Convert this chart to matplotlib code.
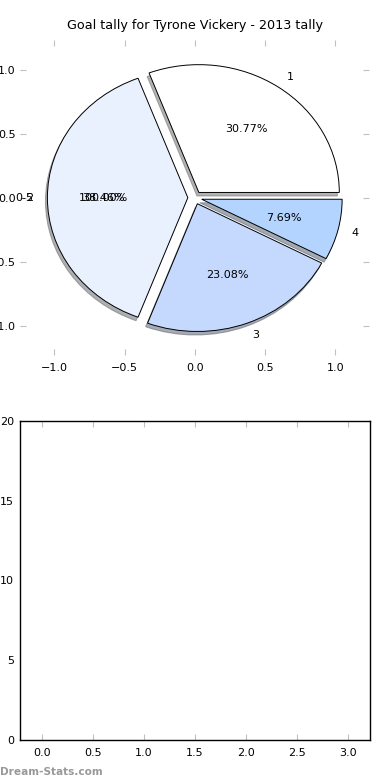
import matplotlib
matplotlib.use("Agg")
import matplotlib.pyplot as plt

# goals per round band
labels = ['1', '2', '3', '4']
goals = [4, 5, 3, 1]
colors = ['#ffffff', '#e9f0fe', '#c5d8fe', '#b3d4fe']
explode = [0.05, 0.05, 0.05, 0.05]

# leftover "0-5" entry, drawn as an empty single-wedge pie
range_label = ['0-5']
range_vals = [1]

bar_xticks = [0.0, 0.5, 1.0, 1.5, 2.0, 2.5, 3.0]
bar_yticks = [0, 5, 10, 15, 20]

fig = plt.figure(figsize=(3.9, 7.8), dpi=100)

ax1 = fig.add_axes([0.0513, 0.545, 0.8949, 0.4037])
ax1.pie(range_vals, labels=range_label, autopct='%1.2f%%', explode=[0.05],
        wedgeprops={'facecolor': 'none', 'linewidth': 0},
        textprops={'fontsize': 8}, frame=True)
ax1.pie(goals, labels=labels, colors=colors, explode=explode,
        shadow={'ox': -0.01, 'oy': -0.02, 'shade': 0.6, 'zorder': 0.5},
        autopct='%1.2f%%', wedgeprops={'edgecolor': 'black', 'linewidth': 0.7},
        textprops={'fontsize': 8}, frame=True)
ax1.set_aspect('auto')
ax1.set_xlim(-1.245, 1.24)
ax1.set_ylim(-1.23, 1.234)
ax1.set_xticks([-1.0, -0.5, 0.0, 0.5, 1.0])
ax1.set_yticks([-1.0, -0.5, 0.0, 0.5, 1.0])
for s in ax1.spines.values():
    s.set_visible(False)
ax1.tick_params(direction='in', length=4, color='#c0c0c0', labelsize=8,
                top=True, right=True)
ax1.tick_params(axis='x', pad=6)
ax1.tick_params(axis='y', pad=3)
ax1.set_title('Goal tally for Tyrone Vickery - 2013 tally', fontsize=9.2, pad=8)

ax2 = fig.add_axes([0.0505, 0.0513, 0.8982, 0.4090])
ax2.set_xlim(-0.216, 3.22)
ax2.set_ylim(0, 20)
ax2.set_xticks(bar_xticks)
ax2.set_yticks(bar_yticks)
ax2.tick_params(axis='x', direction='in', length=4, color='#c0c0c0',
                labelsize=8, top=True, pad=6)
ax2.tick_params(axis='y', length=0, labelsize=8, pad=4)
for s in ax2.spines.values():
    s.set_linewidth(1.0)

fig.text(0.0, 0.004, 'Dream-Stats.com', fontsize=7.6, color='#999999',
         fontweight='bold', ha='left', va='bottom')

fig.savefig('out.png', dpi=100)
